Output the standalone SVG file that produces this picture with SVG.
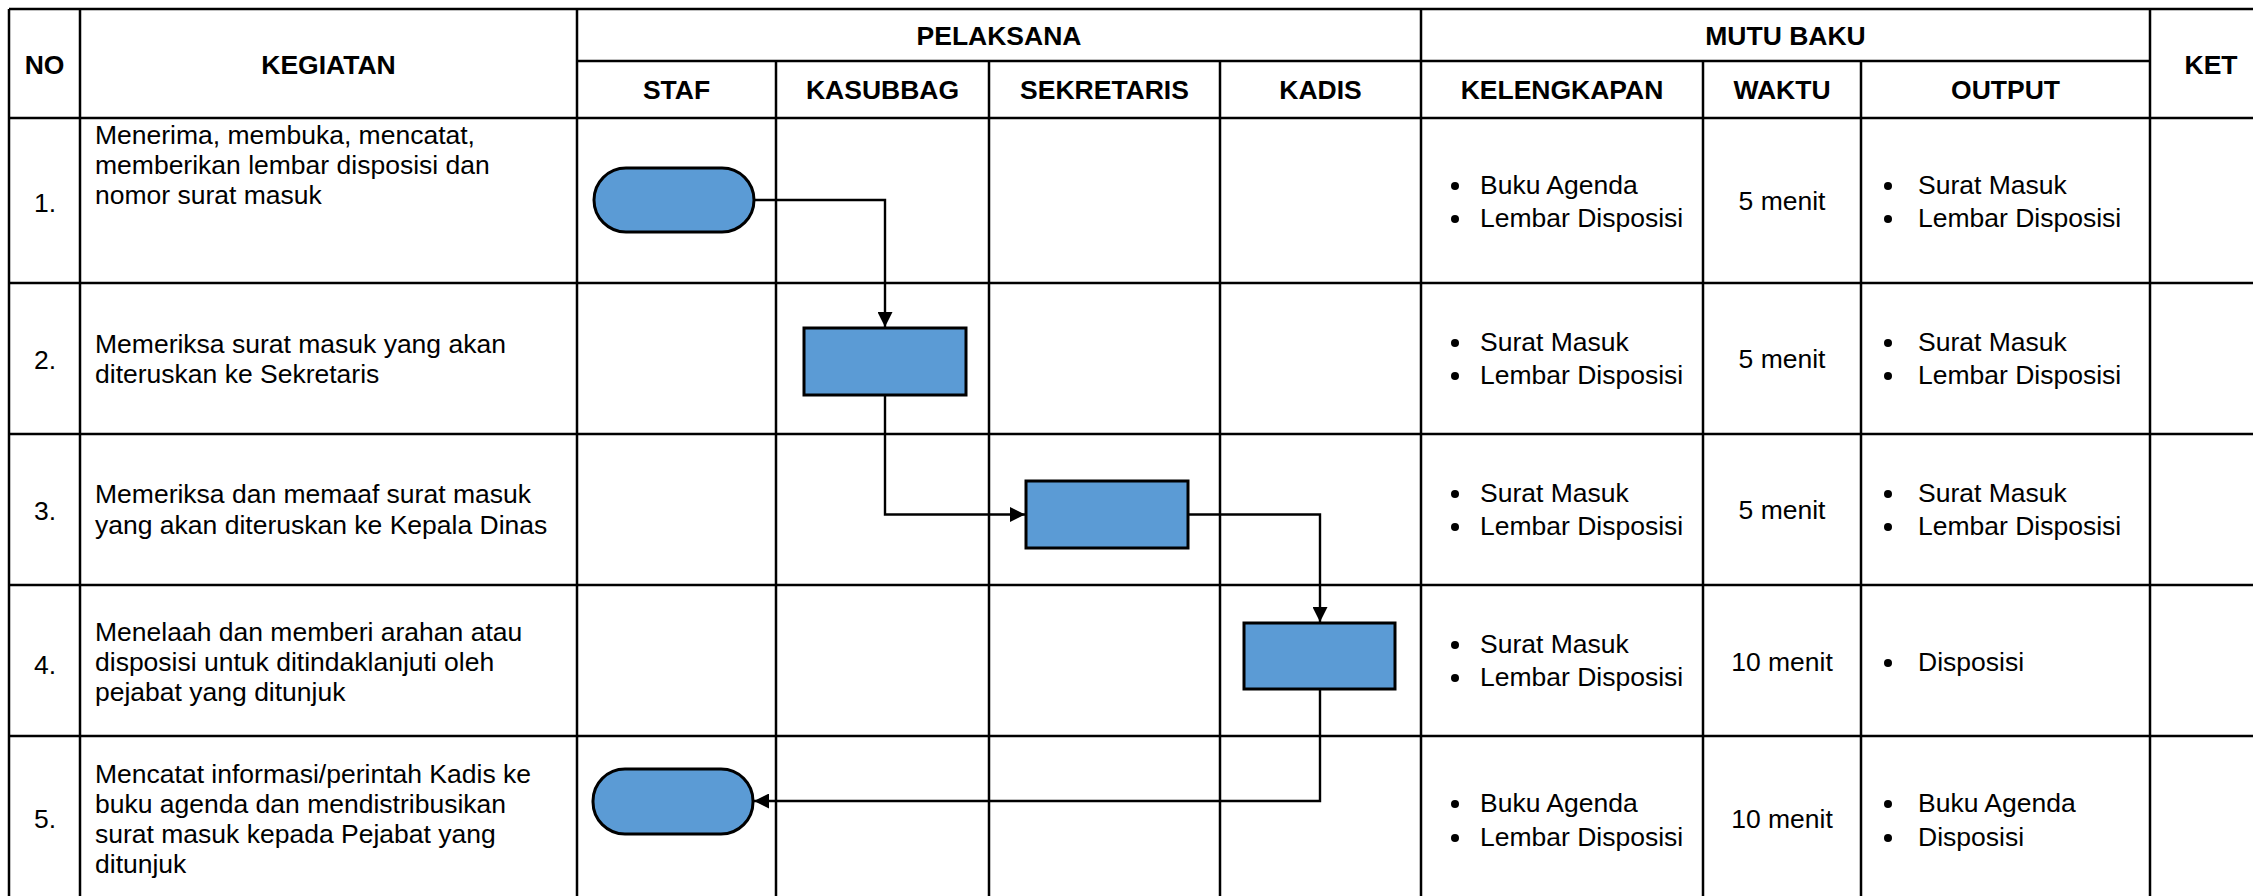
<svg xmlns="http://www.w3.org/2000/svg" width="2253" height="896" viewBox="0 0 2253 896">
<defs>
<style>
.grid{stroke:#000;stroke-width:2.5;fill:none}
.h{font-family:"Liberation Sans",Arial,sans-serif;font-size:26.5px;font-weight:bold;fill:#000;text-anchor:middle}
.t{font-family:"Liberation Sans",Arial,sans-serif;font-size:26.5px;fill:#000}
.c{text-anchor:middle}
.shape{fill:#5B9BD5;stroke:#000;stroke-width:3}
.conn{fill:none;stroke:#000;stroke-width:2.4}
.dot{fill:#000}
</style>
<marker id="arr" viewBox="0 0 10 10" refX="10" refY="5" markerWidth="15" markerHeight="15" markerUnits="userSpaceOnUse" orient="auto">
<path d="M0,0 L10,5 L0,10 z" fill="#000"/>
</marker>
</defs>
<rect x="0" y="0" width="2253" height="896" fill="#fff"/>
<g id="table" class="grid">
<line x1="9" y1="9" x2="2253" y2="9"/>
<line x1="577" y1="61" x2="2150" y2="61"/>
<line x1="9" y1="118" x2="2253" y2="118"/>
<line x1="9" y1="283" x2="2253" y2="283"/>
<line x1="9" y1="434" x2="2253" y2="434"/>
<line x1="9" y1="585" x2="2253" y2="585"/>
<line x1="9" y1="736" x2="2253" y2="736"/>
<line x1="9" y1="9" x2="9" y2="896"/>
<line x1="80" y1="9" x2="80" y2="896"/>
<line x1="577" y1="9" x2="577" y2="896"/>
<line x1="776" y1="61" x2="776" y2="896"/>
<line x1="989" y1="61" x2="989" y2="896"/>
<line x1="1220" y1="61" x2="1220" y2="896"/>
<line x1="1421" y1="9" x2="1421" y2="896"/>
<line x1="1703" y1="61" x2="1703" y2="896"/>
<line x1="1861" y1="61" x2="1861" y2="896"/>
<line x1="2150" y1="9" x2="2150" y2="896"/>
</g>
<g id="headers">
<text class="h" x="44.5" y="74">NO</text>
<text class="h" x="328.5" y="74">KEGIATAN</text>
<text class="h" x="999" y="45">PELAKSANA</text>
<text class="h" x="1785.5" y="45">MUTU BAKU</text>
<text class="h" x="2211" y="74">KET</text>
<text class="h" x="676.5" y="99">STAF</text>
<text class="h" x="882.5" y="99">KASUBBAG</text>
<text class="h" x="1104.5" y="99">SEKRETARIS</text>
<text class="h" x="1320.5" y="99">KADIS</text>
<text class="h" x="1562" y="99">KELENGKAPAN</text>
<text class="h" x="1782" y="99">WAKTU</text>
<text class="h" x="2005.5" y="99">OUTPUT</text>
</g>
<g id="col-no">
<text class="t c" x="45" y="212">1.</text>
<text class="t c" x="45" y="369">2.</text>
<text class="t c" x="45" y="520">3.</text>
<text class="t c" x="45" y="674">4.</text>
<text class="t c" x="45" y="828">5.</text>
</g>
<g id="col-kegiatan">
<text class="t" x="95" y="144">Menerima, membuka, mencatat,</text>
<text class="t" x="95" y="174">memberikan lembar disposisi dan</text>
<text class="t" x="95" y="204">nomor surat masuk</text>
<text class="t" x="95" y="353">Memeriksa surat masuk yang akan</text>
<text class="t" x="95" y="383">diteruskan ke Sekretaris</text>
<text class="t" x="95" y="503">Memeriksa dan memaaf surat masuk</text>
<text class="t" x="95" y="534">yang akan diteruskan ke Kepala Dinas</text>
<text class="t" x="95" y="641">Menelaah dan memberi arahan atau</text>
<text class="t" x="95" y="671">disposisi untuk ditindaklanjuti oleh</text>
<text class="t" x="95" y="701">pejabat yang ditunjuk</text>
<text class="t" x="95" y="783">Mencatat informasi/perintah Kadis ke</text>
<text class="t" x="95" y="813">buku agenda dan mendistribusikan</text>
<text class="t" x="95" y="843">surat masuk kepada Pejabat yang</text>
<text class="t" x="95" y="873">ditunjuk</text>
</g>
<g id="col-kelengkapan">
<circle class="dot" cx="1455" cy="186" r="4"/><text class="t" x="1480" y="194">Buku Agenda</text>
<circle class="dot" cx="1455" cy="219" r="4"/><text class="t" x="1480" y="227">Lembar Disposisi</text>
<circle class="dot" cx="1455" cy="343" r="4"/><text class="t" x="1480" y="351">Surat Masuk</text>
<circle class="dot" cx="1455" cy="376" r="4"/><text class="t" x="1480" y="384">Lembar Disposisi</text>
<circle class="dot" cx="1455" cy="494" r="4"/><text class="t" x="1480" y="502">Surat Masuk</text>
<circle class="dot" cx="1455" cy="527" r="4"/><text class="t" x="1480" y="535">Lembar Disposisi</text>
<circle class="dot" cx="1455" cy="645" r="4"/><text class="t" x="1480" y="653">Surat Masuk</text>
<circle class="dot" cx="1455" cy="678" r="4"/><text class="t" x="1480" y="686">Lembar Disposisi</text>
<circle class="dot" cx="1455" cy="804" r="4"/><text class="t" x="1480" y="812">Buku Agenda</text>
<circle class="dot" cx="1455" cy="838" r="4"/><text class="t" x="1480" y="846">Lembar Disposisi</text>
</g>
<g id="col-waktu">
<text class="t c" x="1782" y="210">5 menit</text>
<text class="t c" x="1782" y="368">5 menit</text>
<text class="t c" x="1782" y="519">5 menit</text>
<text class="t c" x="1782" y="671">10 menit</text>
<text class="t c" x="1782" y="828">10 menit</text>
</g>
<g id="col-output">
<circle class="dot" cx="1888" cy="186" r="4"/><text class="t" x="1918" y="194">Surat Masuk</text>
<circle class="dot" cx="1888" cy="219" r="4"/><text class="t" x="1918" y="227">Lembar Disposisi</text>
<circle class="dot" cx="1888" cy="343" r="4"/><text class="t" x="1918" y="351">Surat Masuk</text>
<circle class="dot" cx="1888" cy="376" r="4"/><text class="t" x="1918" y="384">Lembar Disposisi</text>
<circle class="dot" cx="1888" cy="494" r="4"/><text class="t" x="1918" y="502">Surat Masuk</text>
<circle class="dot" cx="1888" cy="527" r="4"/><text class="t" x="1918" y="535">Lembar Disposisi</text>
<circle class="dot" cx="1888" cy="663" r="4"/><text class="t" x="1918" y="671">Disposisi</text>
<circle class="dot" cx="1888" cy="804" r="4"/><text class="t" x="1918" y="812">Buku Agenda</text>
<circle class="dot" cx="1888" cy="838" r="4"/><text class="t" x="1918" y="846">Disposisi</text>
</g>
<g id="connectors">
<path class="conn" d="M754,200 H885 V327" marker-end="url(#arr)"/>
<path class="conn" d="M885,395 V514.5 H1025" marker-end="url(#arr)"/>
<path class="conn" d="M1188,514.5 H1320 V622" marker-end="url(#arr)"/>
<path class="conn" d="M1320,689 V801 H754" marker-end="url(#arr)"/>
</g>
<g id="n1"><rect class="shape" x="594" y="168" width="160" height="64" rx="32" ry="32"/></g>
<g id="n2"><rect class="shape" x="804" y="328" width="162" height="67"/></g>
<g id="n3"><rect class="shape" x="1026" y="481" width="162" height="67"/></g>
<g id="n4"><rect class="shape" x="1244" y="623" width="151" height="66"/></g>
<g id="n5"><rect class="shape" x="593" y="769" width="160" height="65" rx="32" ry="32"/></g>
</svg>
